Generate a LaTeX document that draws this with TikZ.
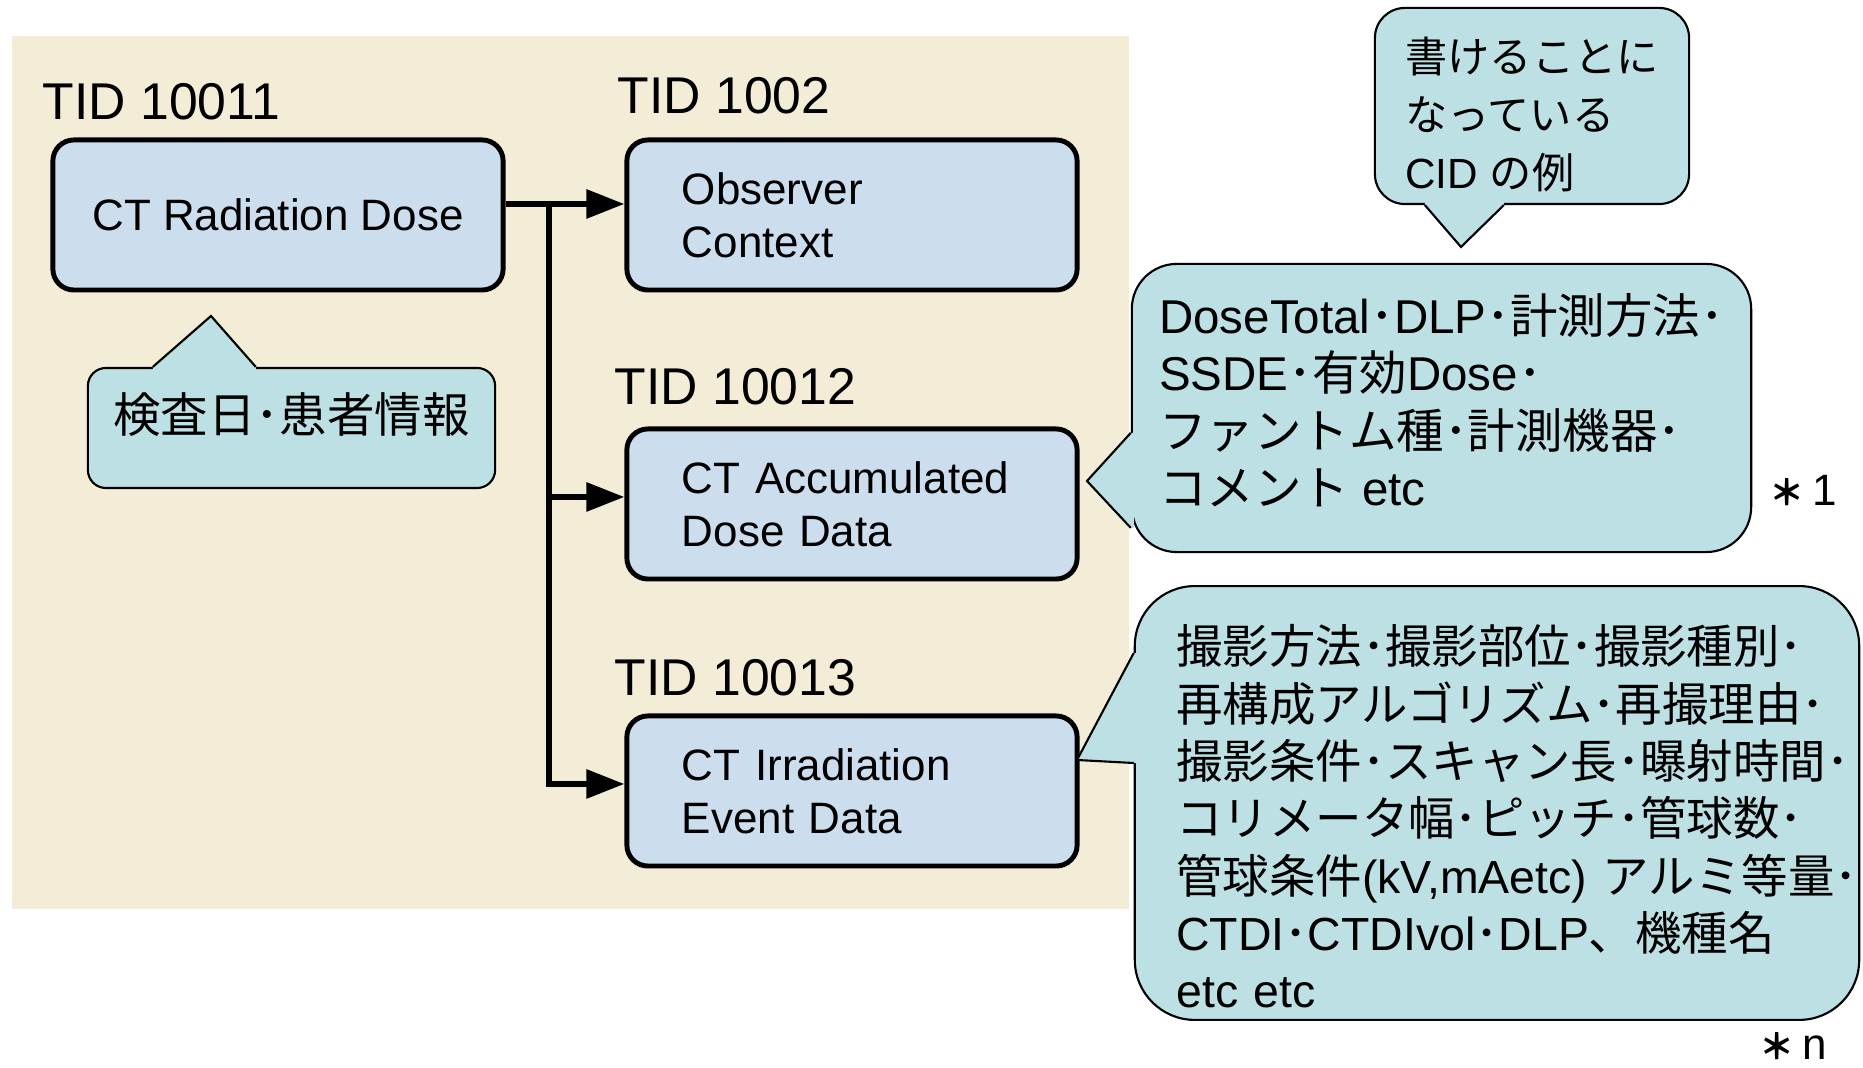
\documentclass[tikz,border=0pt]{standalone}
\usepackage{fontspec}
\setmainfont{Liberation Sans}
\newfontfamily\jpfont{Noto Sans CJK JP}
\usetikzlibrary{arrows.meta,calc}

\definecolor{bgbeige}{RGB}{243,236,214}
\definecolor{boxblue}{RGB}{204,221,238}
\definecolor{callteal}{RGB}{188,224,227}
\newcommand{\ja}[1]{{\jpfont #1}}
\newcommand{\notestar}{{\jpfont\bfseries\fontsize{10}{10}\selectfont ＊}}

\begin{document}
\begin{tikzpicture}[x=0.01cm, y=-0.01cm,
        tidbox/.style={draw, line width=1.4pt, fill=boxblue, rounded corners=0.21cm,
            minimum width=4.5cm, minimum height=1.5cm, font=\fontsize{12.5}{15}\selectfont},
        textbox/.style={align=left, text width=3.4cm, inner xsep=0.55cm},
        tidlabel/.style={anchor=west, inner sep=0pt, font=\fontsize{14.7}{17}\selectfont},
        callbox/.style={draw, line width=0.6pt, fill=callteal, align=left,
            font=\fontsize{13}{16.3}\selectfont},
        pointer/.style={line width=0.6pt},
        notemark/.style={inner sep=0pt, font=\fontsize{12.5}{15}\selectfont},
        link/.style={line width=1.7pt},
        linkarrow/.style={link, -{Triangle[length=0.38cm, width=0.28cm]}}]
        \useasboundingbox (0,0) rectangle (1863,1068);
        \fill[white] (0,0) rectangle (1863,1068);
        \fill[bgbeige] (12,36) rectangle (1129,909);

        \node[tidlabel] (tidA) at (42,102) {TID 10011};
        \node[tidlabel] (tidB) at (617,96) {TID 1002};
        \node[tidlabel] (tidC) at (614,387) {TID 10012};
        \node[tidlabel] (tidD) at (614,678) {TID 10013};

        \node[tidbox] (dose) at (278,215) {CT Radiation Dose};
        \node[tidbox, textbox] (observer) at (852,215) {Observer\\Context};
        \node[tidbox, textbox] (accum) at (852,504) {CT Accumulated\\Dose Data};
        \node[tidbox, textbox] (irrad) at (852,791) {CT Irradiation\\Event Data};

        \coordinate (trunk) at (549,204);
        \coordinate (accumin) at ([yshift=0.07cm]accum.west);
        \coordinate (irradin) at ([yshift=0.07cm]irrad.west);
        \draw[linkarrow] ([yshift=0.11cm]dose.east) -- ([yshift=0.11cm]observer.west);
        \draw[linkarrow] (trunk |- accumin) -- (accumin);
        \draw[linkarrow] (trunk) |- (irradin);

        % callouts
        \node[callbox, rounded corners=0.18cm, minimum width=4.07cm, minimum height=1.2cm,
            font=\fontsize{13.5}{16}\selectfont\jpfont] (exam) at (291.5,428)
            {検査日･患者情報\rule[-0.3cm]{0pt}{0.3cm}};
        \coordinate (examtip) at (211,316);
        \fill[callteal] ($(exam.north west)+(66,0)$) -- (examtip) -- ($(exam.north west)+(169,0)$)
            -- ++(0,3) -- ($(exam.north west)+(66,3)$) -- cycle;
        \draw[pointer] ($(exam.north west)+(66,0)$) -- (examtip) -- ($(exam.north west)+(169,0)$);

        \node[callbox, rounded corners=0.3cm, minimum width=3.14cm, minimum height=1.96cm,
            font=\fontsize{12}{16.5}\selectfont] (cidnote) at (1532,106)
            {\rule{0pt}{0.53cm}\ja{書けることに}\\\ja{なっている}\\CID \ja{の例}};
        \coordinate (cidtip) at (1461,247);
        \fill[callteal] ($(cidnote.south west)+(51,0)$) -- (cidtip) -- ($(cidnote.south west)+(130,0)$)
            -- ++(0,-3) -- ($(cidnote.south west)+(51,-3)$) -- cycle;
        \draw[pointer] ($(cidnote.south west)+(51,0)$) -- (cidtip) -- ($(cidnote.south west)+(130,0)$);

        \node[callbox, rounded corners=0.45cm, minimum width=6.19cm, minimum height=2.88cm,
            font=\fontsize{13.5}{16.3}\selectfont] (accumnote) at (1441.5,408)
            {DoseTotal\ja{･}DLP\ja{･計測方法･}\\SSDE\ja{･有効}Dose\ja{･}\\\ja{ファントム種･計測機器･}\\\ja{コメント} etc\rule[-0.17cm]{0pt}{0.17cm}};
        \coordinate (accumtip) at (1087,481);
        \fill[callteal] ($(accumnote.north west)+(0,170)$) -- (accumtip) -- ($(accumnote.north west)+(0,265)$)
            -- ++(3,0) -- ($(accumnote.north west)+(3,170)$) -- cycle;
        \draw[pointer] ($(accumnote.north west)+(0,170)$) -- (accumtip) -- ($(accumnote.north west)+(0,265)$);

        \node[callbox, rounded corners=0.6cm, minimum width=7.24cm, minimum height=4.3cm,
            text width=6.41cm, inner xsep=0.2cm, font=\fontsize{13.2}{16.3}\selectfont]
            (irradnote) at (1497,803)
            {\rule{0pt}{0.66cm}\ja{撮影方法･撮影部位･撮影種別･}\\\ja{再構成アルゴリズム･再撮理由･}\\\ja{撮影条件･スキャン長･曝射時間･}\\\ja{コリメータ幅･ピッチ･管球数･}\\\ja{管球条件}(kV,mAetc)~\ja{アルミ等量･}\\CTDI\ja{･}CTDIvol\ja{･}DLP\ja{、機種名}\\etc~etc};
        \coordinate (irradtip) at (1077,760);
        \fill[callteal] ($(irradnote.north west)+(0,68)$) -- (irradtip) -- ($(irradnote.north west)+(0,178)$)
            -- ++(3,0) -- ($(irradnote.north west)+(3,68)$) -- cycle;
        \draw[pointer] ($(irradnote.north west)+(0,68)$) -- (irradtip) -- ($(irradnote.north west)+(0,178)$);

        \node[notemark] (markone) at (1803,491) {\notestar\,1};
        \node[notemark] (markn) at (1793,1046) {\notestar\,n};
    \end{tikzpicture}
\end{document}
